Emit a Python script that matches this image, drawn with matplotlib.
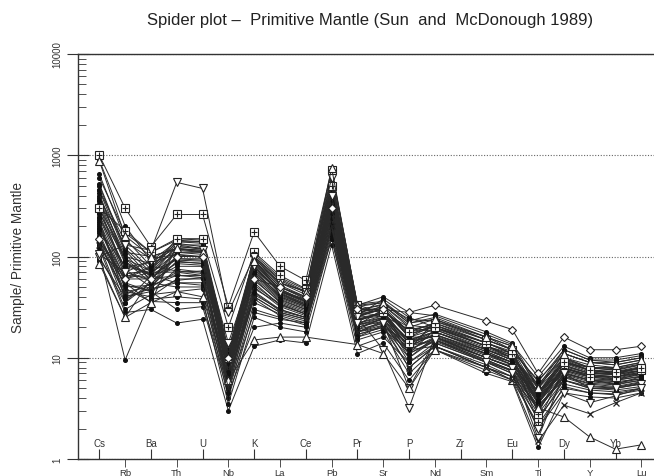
import numpy as np
import matplotlib
matplotlib.use('Agg')
import matplotlib.pyplot as plt

nan = np.nan

elements = ['Cs', 'Rb', 'Ba', 'Th', 'U', 'Nb', 'K', 'La', 'Ce', 'Pb', 'Pr',
            'Sr', 'P', 'Nd', 'Zr', 'Sm', 'Eu', 'Ti', 'Dy', 'Y', 'Yb', 'Lu']

# normalised values (sample / primitive mantle), Zr not analysed
high_group = [
    [900, 200, 90, 140, 140, 12, 100, 60, 45, 550, 32, 35, 22, 25, nan, 16, 13, 5.0, 11, 9.0, 9.0, 10],
    [650, 150, 80, 130, 130, 10, 95, 55, 42, 500, 30, 33, 20, 24, nan, 15, 12, 4.5, 10, 8.0, 8.0, 9.0],
    [520, 120, 70, 125, 120, 9, 90, 50, 38, 450, 28, 32, 18, 22, nan, 14, 11, 4.0, 9.0, 8.0, 7.5, 8.5],
    [450, 110, 100, 120, 115, 8, 85, 48, 36, 420, 27, 30, 17, 21, nan, 13, 11, 4.2, 9.5, 7.5, 7.0, 8.0],
    [400, 95, 60, 110, 110, 11, 80, 45, 35, 380, 26, 38, 25, 20, nan, 13, 10, 5.5, 10, 8.5, 8.0, 9.0],
    [380, 130, 75, 150, 145, 7, 98, 52, 40, 600, 30, 28, 12, 23, nan, 16, 12, 3.5, 8.5, 7.0, 7.0, 7.5],
    [350, 90, 55, 100, 100, 6, 70, 42, 33, 350, 24, 27, 15, 18, nan, 12, 9.5, 3.8, 8.0, 6.5, 6.5, 7.0],
    [330, 85, 65, 95, 95, 9, 75, 40, 32, 320, 23, 29, 14, 17, nan, 11, 9.0, 4.6, 7.5, 6.5, 6.0, 7.0],
    [300, 100, 85, 135, 125, 12, 88, 47, 37, 480, 28, 26, 19, 21, nan, 14, 11.5, 6.0, 11, 9.0, 8.5, 9.5],
    [280, 75, 50, 90, 85, 5, 65, 38, 30, 300, 22, 25, 10, 16, nan, 11, 8.5, 3.0, 7.0, 6.0, 5.5, 6.5],
    [600, 170, 110, 145, 140, 9.5, 105, 62, 47, 700, 34, 36, 23, 27, nan, 18, 14, 5.2, 12, 9.5, 9.5, 10.5],
    [450, 140, 95, 105, 100, 8, 75, 45, 36, 400, 26, 30, 17, 20, nan, 13, 10.5, 4.2, 9.0, 7.5, 7.2, 8.0],
]

mid_group = [
    [260, 70, 58, 80, 80, 8, 60, 35, 28, 260, 21, 30, 16, 16, nan, 10, 8.0, 4.0, 7.0, 6.0, 6.0, 6.5],
    [240, 65, 62, 85, 82, 7, 55, 33, 27, 240, 20, 24, 13, 15, nan, 10, 8.0, 3.6, 6.8, 5.8, 5.5, 6.0],
    [220, 60, 70, 70, 72, 6, 50, 32, 26, 220, 19, 22, 11, 15, nan, 9.5, 7.5, 3.2, 6.5, 5.5, 5.2, 5.8],
    [200, 55, 45, 75, 70, 10, 58, 36, 29, 280, 23, 28, 20, 18, nan, 12, 10, 5.0, 9.0, 7.5, 7.0, 8.0],
    [190, 50, 52, 65, 65, 5.5, 45, 30, 25, 200, 18, 23, 9, 14, nan, 9.0, 7.0, 2.8, 6.0, 5.0, 5.0, 5.5],
    [180, 80, 68, 110, 105, 9, 78, 44, 34, 400, 25, 31, 16, 19, nan, 12.5, 10, 4.4, 8.8, 7.2, 7.0, 7.8],
    [170, 45, 40, 60, 60, 7.5, 40, 28, 24, 180, 17, 20, 14, 14, nan, 9.0, 7.5, 4.8, 7.2, 6.0, 5.8, 6.2],
    [160, 40, 48, 55, 55, 4.5, 35, 27, 23, 170, 16, 21, 8, 13, nan, 8.5, 6.5, 2.5, 5.5, 4.8, 4.6, 5.0],
    [150, 35, 55, 50, 50, 6.5, 38, 26, 22, 160, 16, 19, 12, 13, nan, 8.0, 6.5, 3.4, 6.0, 5.0, 4.8, 5.2],
    [140, 60, 78, 115, 110, 10.5, 92, 46, 36, 450, 29, 34, 24, 23, nan, 15, 12, 5.8, 12, 9.5, 9.0, 10],
    [130, 30, 42, 45, 48, 4, 30, 25, 21, 150, 15, 18, 7, 12, nan, 7.5, 6.0, 2.2, 5.0, 4.5, 4.3, 4.8],
    [125, 55, 35, 130, 120, 8.5, 82, 43, 33, 350, 25, 27, 11, 19, nan, 12, 9.5, 3.9, 8.2, 7.0, 6.8, 7.5],
]

low_group = [
    [120, 28, 30, 22, 24, 3, 13, 15, 14, 130, 11, 14, 6, 12, nan, 7.0, 5.8, 1.3, 4.5, 4.1, 4.0, 4.5],
    [110, 9.5, 38, 40, 38, 3.5, 25, 20, 18, 150, 13, 16, 9, 13, nan, 8.0, 6.5, 2.0, 5.2, 4.5, 4.4, 5.0],
    [100, 35, 65, 55, 52, 5, 42, 30, 25, 230, 19, 25, 15, 16, nan, 10, 8.0, 3.0, 7.0, 6.0, 5.6, 6.2],
    [95, 40, 45, 30, 32, 4.5, 20, 22, 20, 190, 17, 20, 10, 15, nan, 9.5, 7.5, 2.4, 6.0, 5.2, 5.0, 5.6],
    [90, 25, 60, 65, 62, 6, 48, 34, 27, 260, 21, 24, 13, 17, nan, 11, 9.0, 3.5, 7.6, 6.4, 6.2, 6.8],
    [210, 48, 36, 35, 35, 5, 28, 24, 22, 210, 18, 22, 12, 16, nan, 10.5, 8.5, 4.0, 7.8, 6.8, 6.5, 7.2],
    [310, 68, 72, 140, 135, 11, 100, 58, 44, 650, 33, 40, 28, 26, nan, 17, 13.5, 6.5, 13, 10, 10, 11],
    [230, 38, 50, 100, 100, 7, 68, 40, 32, 330, 24, 26, 15, 18, nan, 11.5, 9.0, 3.7, 8.0, 6.8, 6.5, 7.2],
]

extra_group = [
    [270, 95, 72, 92, 90, 7.5, 72, 41, 33, 310, 24, 28, 14, 18, nan, 12, 9.5, 4.1, 8.4, 7.0, 6.8, 7.4],
    [360, 105, 58, 118, 112, 9, 85, 46, 36, 380, 26, 30, 18, 20, nan, 13, 10.5, 4.6, 9.2, 7.6, 7.3, 8.2],
    [185, 62, 80, 72, 68, 6.2, 52, 34, 27, 240, 20, 23, 12, 15.5, nan, 10, 8.2, 3.3, 6.6, 5.6, 5.4, 6.0],
    [420, 88, 66, 126, 118, 8.8, 92, 50, 39, 520, 28, 31, 16, 21, nan, 14, 11, 4.4, 9.6, 7.9, 7.6, 8.6],
    [155, 52, 46, 58, 62, 5.8, 44, 29, 25, 200, 18, 21, 11, 14.5, nan, 9.3, 7.3, 3.1, 6.4, 5.3, 5.1, 5.7],
    [245, 78, 88, 104, 98, 10, 80, 43, 34, 360, 25, 33, 21, 19.5, nan, 13, 10, 5.2, 9.8, 8.0, 7.8, 8.7],
    [500, 115, 62, 95, 92, 6.8, 68, 39, 31, 290, 22, 26, 13, 17, nan, 11.5, 9.0, 3.6, 7.8, 6.6, 6.3, 7.0],
    [135, 42, 54, 88, 86, 7.2, 62, 37, 30, 270, 21, 25, 14, 16.5, nan, 10.8, 8.6, 3.8, 7.4, 6.2, 6.0, 6.6],
]

# samples drawn with open symbols
boxed_a = [1000, 300, 125, 260, 260, 32, 175, 80, 58, 720, 33, 28, 14, 20, nan, 14, 11, 2.3, 8.0, 6.5, 6.5, 7.5]
boxed_b = [300, 180, 110, 150, 150, 20, 110, 65, 48, 500, 30, 30, 18, 22, nan, 15, 12, 2.8, 9.0, 7.5, 7.2, 8.0]
down_a = [100, 130, 115, 540, 470, 28, 100, 55, 45, 600, 25, 12, 3.2, 16, nan, 10, 8.0, 1.6, 7.0, 5.0, 5.0, 5.5]
down_b = [105, 70, 90, 120, 115, 14, 80, 45, 38, 400, 22, 22, 5, 15, nan, 9.0, 7.0, 2.0, 4.5, 3.6, 4.2, 5.0]
up_a = [85, 25, 35, 45, 40, 6, 15, 16, 16, nan, 13.5, 11, 5, 12, nan, 8.0, 6.0, 3.2, 2.6, 1.65, 1.25, 1.38]
up_b = [880, 160, 100, 120, 110, 10, 90, 55, 45, 750, 33, 35, 22, 24, nan, 16, 13, 5.0, 11, 9.0, 8.5, 9.5]
diamond = [150, 60, 60, 100, 100, 10, 60, 50, 40, 300, 30, 30, 28, 33, nan, 23, 19, 7.0, 16, 12, 12, 13]
cross = [130, 45, 50, 70, 65, 5, 40, 28, 24, 200, 18, 20, 8, 13, nan, 8.0, 6.0, 1.5, 3.4, 2.8, 3.6, 4.5]

plt.rcParams['font.family'] = 'Liberation Sans'

x = np.arange(len(elements))

fig = plt.figure(figsize=(6.54, 4.77), dpi=100)
ax = fig.add_axes([78/654, 17/477, 576/654, 405/477])
ax.set_yscale('log')
ax.set_ylim(1, 10000)
ax.set_xlim(-0.825, 21.49)

line_kw = dict(color='#2a2a2a', linewidth=0.7)


def draw(vals, **kw):
    v = np.array(vals, dtype=float)
    m = ~np.isnan(v)
    ax.plot(x[m], v[m], **line_kw, **kw)


for row in high_group + mid_group + low_group + extra_group:
    draw(row, marker='o', markersize=2.6, markerfacecolor='#111', markeredgecolor='#111')

open_kw = dict(markersize=5.5, markerfacecolor='white', markeredgecolor='#222', markeredgewidth=0.8)
for row in [boxed_a, boxed_b]:
    draw(row, marker='s', **open_kw)
    v = np.array(row, dtype=float)
    m = ~np.isnan(v)
    ax.plot(x[m], v[m], linestyle='none', marker='+', markersize=5, color='#222', markeredgewidth=0.8)
draw(down_a, marker='v', **open_kw)
draw(down_b, marker='v', **open_kw)
draw(up_a, marker='^', **open_kw)
draw(up_b, marker='^', **open_kw)
draw(diamond, marker='D', markersize=4.5, markerfacecolor='white', markeredgecolor='#222', markeredgewidth=0.8)
draw(cross, marker='x', markersize=5, markeredgecolor='#222', markeredgewidth=0.9)

# axis styling
for side in ['top', 'left', 'bottom']:
    ax.spines[side].set_color('#333')
    ax.spines[side].set_linewidth(1.0)
ax.spines['right'].set_visible(False)

ax.set_xticks(x[0::2], elements[0::2])
ax.set_xticks(x[1::2], elements[1::2], minor=True)
ax.tick_params(axis='x', which='major', direction='in', length=7, pad=-15,
               labelsize=7, colors='#333')
ax.tick_params(axis='x', which='minor', direction='out', length=6, pad=0.5,
               labelsize=6.8, colors='#333')

ax.set_yticks([1, 10, 100, 1000, 10000], ['1', '10', '100', '1000', '10000'])
ax.tick_params(axis='y', which='major', direction='inout', length=16, pad=3,
               labelsize=7, colors='#333')
ax.tick_params(axis='y', which='minor', direction='in', length=6, colors='#333')
for lab in ax.get_yticklabels():
    lab.set_rotation(90)
    lab.set_va('center')

ax.yaxis.grid(True, which='major', linestyle=(0, (1, 1.5)), color='#666', linewidth=0.8)
ax.set_axisbelow(True)

ax.set_ylabel('Sample/ Primitive Mantle', fontsize=9.8, color='#333')
ax.yaxis.set_label_coords(-0.092, 0.5)

fig.text(370/654, 1 - 20/477, 'Spider plot \u2013  Primitive Mantle (Sun  and  McDonough 1989)',
         ha='center', va='center', fontsize=12, color='#222')

fig.savefig('out.png', dpi=100)
